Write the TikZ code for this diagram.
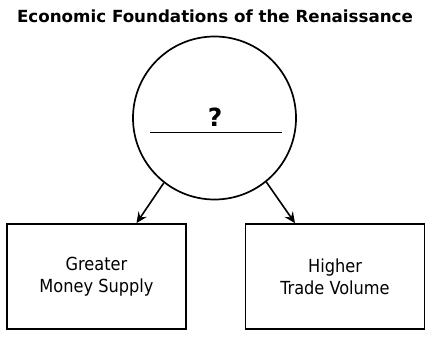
\documentclass[tikz,border=0pt]{standalone}
\usepackage{fontspec}
\setmainfont{DejaVu Sans Condensed}
\newfontfamily\titlefont{DejaVu Sans}
\usepackage{tikz}
\usetikzlibrary{arrows.meta,positioning,calc}

\tikzset{
  effectbox/.style={draw, line width=1.7pt, minimum width=179pt, minimum height=105pt, align=center, font=\fontsize{18}{22}\selectfont},
  causearrow/.style={line width=1.6pt, -{Stealth[length=11pt,width=10pt,inset=4pt]}}
}

\begin{document}
\begin{tikzpicture}[x=1pt,y=-1pt]
		\useasboundingbox (0,0) rectangle (433,338);

		\node[font=\titlefont\bfseries\fontsize{16.7}{20}\selectfont] (title) at (215,16) {Economic Foundations of the Renaissance};

		\node[draw, circle, line width=1.7pt, minimum size=163pt, inner sep=0pt] (hub) at (214.5,118) {};

		\coordinate (blankL) at (150,132.5);
		\coordinate (blankR) at (282,132.5);
		\draw[line width=1.8pt] (blankL) -- (blankR);
		\node[font=\titlefont\bfseries\fontsize{25}{30}\selectfont] (unknown) at (215,117) {?};

		\node[effectbox] (money) at (96.5,276.5) {Greater\\Money Supply};
		\node[effectbox] (trade) at (335,276.5) {Higher\\Trade Volume};

		\draw[causearrow] (hub.-128) -- ([xshift=40pt]money.north);
		\draw[causearrow] (hub.-51) -- ([xshift=-40pt]trade.north);
	\end{tikzpicture}
\end{document}
